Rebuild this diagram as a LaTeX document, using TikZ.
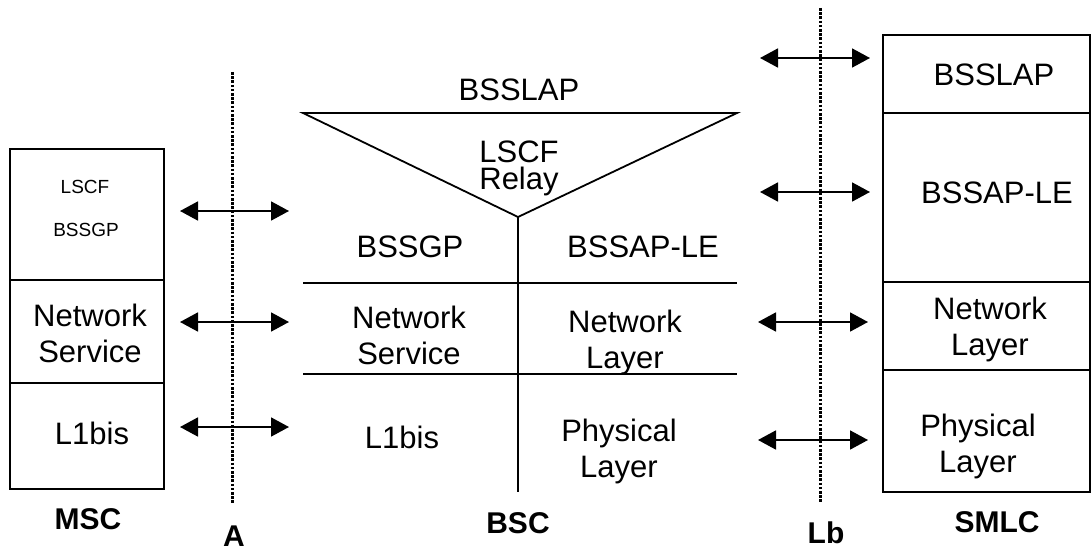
\documentclass[tikz,border=0pt]{standalone}
\usepackage{fontspec}
\setmainfont{Liberation Sans}
\usetikzlibrary{arrows.meta}
\begin{document}
\begin{tikzpicture}[x=1pt,y=-1pt,
  frame/.style={line width=1.8pt},
  iface/.style={line width=3pt,dash pattern=on 2.6pt off 1.6pt},
  peer/.style={line width=1.8pt,{Triangle[length=18pt,width=19pt]}-{Triangle[length=18pt,width=19pt]}},
  big/.style={font=\fontsize{31}{36}\selectfont,align=center,inner sep=0pt},
  small/.style={font=\fontsize{19}{22}\selectfont,align=center,inner sep=0pt},
  lbl/.style={font=\fontsize{30}{34}\selectfont\bfseries,inner sep=0pt}]
\useasboundingbox (0,0) rectangle (1092,551);

% MSC stack
\draw[frame] (10,149) rectangle (164,489);
\draw[frame] (10,280) -- (164,280);
\draw[frame] (10,383) -- (164,383);
\node[small] (mscLSCF) at (85,187) {LSCF};
\node[small] (mscBSSGP) at (86,230) {BSSGP};
\node[big] (mscNS) at (90,333) {Network\\Service};
\node[big] (mscL1) at (92,433) {L1bis};
\node[lbl] (msc) at (88,519) {MSC};

% A interface
\coordinate (aTop) at (232,72);
\coordinate (aBot) at (232,503);
\draw[iface] (aTop) -- (aBot);
\node[lbl] (A) at (234,536) {A};

\coordinate (aL1) at (180,211); \coordinate (aR1) at (289,211);
\coordinate (aL2) at (180,322); \coordinate (aR2) at (289,322);
\coordinate (aL3) at (180,427); \coordinate (aR3) at (289,427);
\draw[peer] (aL1) -- (aR1);
\draw[peer] (aL2) -- (aR2);
\draw[peer] (aL3) -- (aR3);

% BSC
\coordinate (tL) at (303,113);
\coordinate (tR) at (737,113);
\coordinate (tA) at (518,217);
\coordinate (vB) at (518,492);
\draw[frame,line join=miter] (tL) -- (tR) -- (tA) -- cycle;
\draw[frame] (tA) -- (vB);
\coordinate (h1L) at (303,283); \coordinate (h1R) at (737,283);
\coordinate (h2L) at (303,374); \coordinate (h2R) at (737,374);
\draw[frame] (h1L) -- (h1R);
\draw[frame] (h2L) -- (h2R);
\node[big] (bscBSSLAP) at (519,90) {BSSLAP};
\node[big,anchor=base] (bscLSCF) at (519,162) {LSCF};
\node[big,anchor=base] (bscRelay) at (519,189) {Relay};
\node[big] (bscBSSGP) at (410,247) {BSSGP};
\node[big] (bscBSSAP) at (643,247) {BSSAP-LE};
\node[big] (bscNS) at (409,335) {Network\\Service};
\node[big] (bscNL) at (625,342) {Network\\Layer};
\node[big] (bscL1) at (402,437) {L1bis};
\node[big] (bscPL) at (619,451) {Physical\\Layer};
\node[lbl] (bsc) at (518,523) {BSC};

% Lb interface
\coordinate (lbTop) at (820,8);
\coordinate (lbBot) at (820,503);
\draw[iface] (lbTop) -- (lbBot);
\node[lbl] (Lb) at (826,533) {Lb};

\coordinate (bL1) at (760,58);  \coordinate (bR1) at (870,58);
\coordinate (bL2) at (760,192); \coordinate (bR2) at (870,192);
\coordinate (bL3) at (758,322); \coordinate (bR3) at (868,322);
\coordinate (bL4) at (758,440); \coordinate (bR4) at (868,440);
\draw[peer] (bL1) -- (bR1);
\draw[peer] (bL2) -- (bR2);
\draw[peer] (bL3) -- (bR3);
\draw[peer] (bL4) -- (bR4);

% SMLC stack
\draw[frame] (883,35) rectangle (1090,492);
\draw[frame] (883,113) -- (1090,113);
\draw[frame] (883,282) -- (1090,282);
\draw[frame] (883,370) -- (1090,370);
\node[big] (smlcBSSLAP) at (994,75) {BSSLAP};
\node[big] (smlcBSSAP) at (997,193) {BSSAP-LE};
\node[big] (smlcNL) at (990,329) {Network\\Layer};
\node[big] (smlcPL) at (978,446) {Physical\\Layer};
\node[lbl] (smlc) at (997,522) {SMLC};
\end{tikzpicture}
\end{document}
